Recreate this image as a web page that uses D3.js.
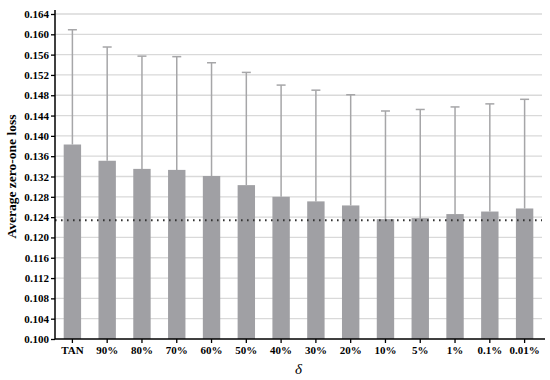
<!DOCTYPE html>
<html><head><meta charset="utf-8">
<script src="https://cdn.jsdelivr.net/npm/d3@7"></script>
<style>body{margin:0;background:#fff}</style>
</head><body>
<script>
const categories = ["TAN","90%","80%","70%","60%","50%","40%","30%","20%","10%","5%","1%","0.1%","0.01%"];
const means = [0.1383,0.1351,0.1335,0.1333,0.1321,0.1303,0.1280,0.1271,0.1263,0.1236,0.1238,0.1246,0.1251,0.1257];
const upper = [0.1609,0.1575,0.1557,0.1556,0.1544,0.1525,0.1500,0.1490,0.1481,0.1449,0.1452,0.1457,0.1463,0.1472];
const refLine = 0.1234;
const yTicks = [0.100,0.104,0.108,0.112,0.116,0.120,0.124,0.128,0.132,0.136,0.140,0.144,0.148,0.152,0.156,0.160,0.164];

(function(){
const W=550,H=380;
const svg=d3.select("body").append("svg").attr("width",W).attr("height",H);
const mL=55,mR=542,mT=14,mB=339;
const x=d3.scaleBand().domain(categories).range([mL,mR]).paddingInner(0.5).paddingOuter(0.25);
const y=d3.scaleLinear().domain([0.100,0.164]).range([mB,mT]);
const font="'Liberation Serif','Times New Roman',serif";

svg.append("g").selectAll("line").data(yTicks.slice(1)).join("line")
  .attr("x1",mL).attr("x2",mR).attr("y1",d=>y(d)).attr("y2",d=>y(d))
  .attr("stroke","#d9d9d9").attr("stroke-width",1.3);

const eb=svg.append("g");
categories.forEach((c,i)=>{
  const cx=x(c)+x.bandwidth()/2;
  eb.append("line").attr("x1",cx).attr("x2",cx).attr("y1",y(means[i])).attr("y2",y(upper[i]))
    .attr("stroke","#a6a6a8").attr("stroke-width",1.5);
  eb.append("line").attr("x1",cx-4.5).attr("x2",cx+4.5).attr("y1",y(upper[i])).attr("y2",y(upper[i]))
    .attr("stroke","#a6a6a8").attr("stroke-width",1.5);
});

svg.append("g").selectAll("rect").data(categories).join("rect")
  .attr("x",d=>x(d)).attr("width",x.bandwidth())
  .attr("y",(d,i)=>y(means[i])).attr("height",(d,i)=>mB-y(means[i]))
  .attr("fill","#a0a0a4");

svg.append("line").attr("x1",mL).attr("x2",mR).attr("y1",y(refLine)).attr("y2",y(refLine))
  .attr("stroke","#333").attr("stroke-width",2).attr("stroke-dasharray","1.6,4.4");

const ya=svg.append("g").attr("transform",`translate(${mL},0)`)
  .call(d3.axisLeft(y).tickValues(yTicks).tickFormat(d3.format(".3f")).tickSize(4).tickSizeOuter(0));
ya.select(".domain").attr("stroke","#000").attr("stroke-width",1.5).attr("d",`M0,${mT-4}V${mB}`);
ya.selectAll(".tick line").attr("stroke","#000").attr("stroke-width",1.3);
ya.selectAll("text").attr("font-family",font).attr("font-weight","bold").attr("font-size",11).attr("fill","#000").attr("x",-6);

const xa=svg.append("g").attr("transform",`translate(0,${mB})`)
  .call(d3.axisBottom(x).tickSize(4).tickSizeOuter(0));
xa.select(".domain").attr("stroke","#000").attr("stroke-width",1.5).attr("d",`M${mL},0H${mR+3}`);
xa.selectAll(".tick line").attr("stroke","#000").attr("stroke-width",1.3);
xa.selectAll("text").attr("font-family",font).attr("font-weight","bold").attr("font-size",11).attr("fill","#000").attr("y",7);

svg.append("text").attr("transform",`translate(16,${(mT+mB)/2}) rotate(-90)`)
  .attr("text-anchor","middle").attr("font-family",font).attr("font-weight","bold").attr("font-size",13.5)
  .text("Average zero-one loss");
svg.append("text").attr("x",(mL+mR)/2).attr("y",374).attr("text-anchor","middle")
  .attr("font-family",font).attr("font-style","italic").attr("font-size",15).text("δ");
})();
</script>
</body></html>
